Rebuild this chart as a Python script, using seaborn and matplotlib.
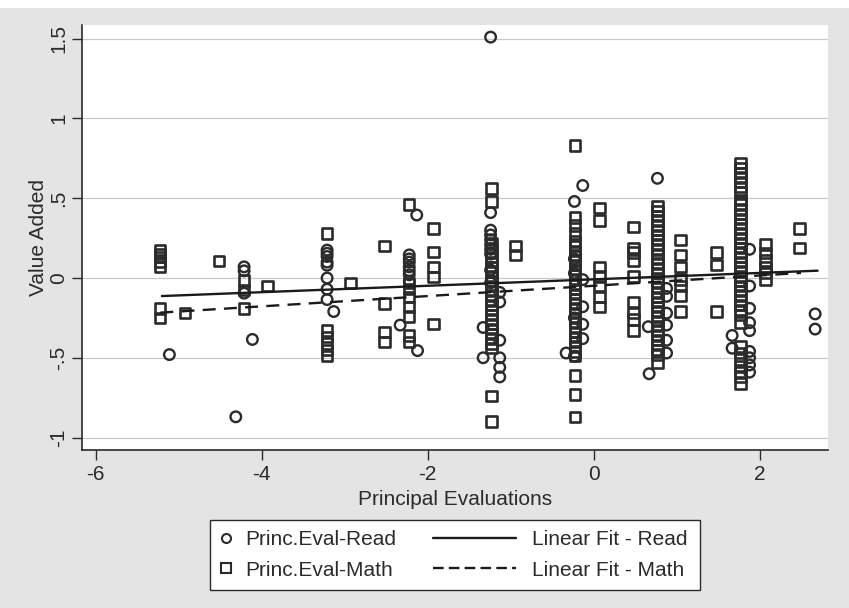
import matplotlib
matplotlib.use('Agg')
import numpy as np
import pandas as pd
import matplotlib.pyplot as plt
from matplotlib.lines import Line2D
from matplotlib.patches import Rectangle
import seaborn as sns

sns.set_style('ticks')
plt.rcParams['font.family'] = ['Liberation Sans', 'DejaVu Sans']

# --- data: one x per column, list of y values per column ---
read_col_x = [-5.11, -4.31, -4.21, -4.11, -3.21, -3.13, -2.22, -2.13, -2.33, -2.12,
              -1.24, -1.13, -1.33, -0.23, -0.13, -0.33, 0.77, 0.88, 0.66, 0.67,
              1.88, 1.67, 2.67]
read_col_y = [
    [-0.48],
    [-0.87],
    [0.07, 0.045, -0.095],
    [-0.385],
    [0.175, 0.155, 0.135, 0.10, 0.08, 0.0, -0.07, -0.135],
    [-0.21],
    [0.145, 0.12, 0.10, 0.07, 0.045, 0.02, -0.02],
    [0.395],
    [-0.295],
    [-0.455],
    [1.51, 0.41, 0.30, 0.27, 0.24, 0.21, 0.18, 0.15, 0.05, -0.03],
    [-0.09, -0.15, -0.39, -0.50, -0.56, -0.62],
    [-0.31, -0.50],
    [0.48, 0.12, 0.03, -0.25, -0.49],
    [0.58, -0.01, -0.18, -0.29, -0.38],
    [-0.47],
    [0.625],
    [-0.065, -0.115, -0.22, -0.295, -0.39, -0.47],
    [-0.305],
    [-0.60],
    [0.18, -0.05, -0.19, -0.28, -0.33, -0.46, -0.50, -0.545, -0.59],
    [-0.36, -0.44],
    [-0.225, -0.32],
]

math_col_x = [-5.22, -4.92, -4.51, -4.21, -3.93, -3.21, -2.93, -2.52, -2.22, -1.93,
              -1.23, -0.94, -0.22, 0.07, 0.48, 0.77, 1.05, 1.48, 1.77, 2.07, 2.48]
math_col_y = [
    [0.175, 0.15, 0.13, 0.10, 0.07, -0.19, -0.25],
    [-0.22],
    [0.105],
    [-0.015, -0.075, -0.19],
    [-0.05],
    [0.28, -0.33, -0.37, -0.41, -0.45, -0.49],
    [-0.03],
    [0.20, -0.16, -0.34, -0.40],
    [0.46, -0.03, -0.07, -0.12, -0.18, -0.24, -0.36, -0.40],
    [0.31, 0.165, 0.07, 0.005, -0.29],
    [0.56, 0.48, 0.22, 0.19, 0.16, 0.13, 0.10, 0.07, 0.04, 0.01, -0.02, -0.05,
     -0.08, -0.11, -0.14, -0.17, -0.20, -0.23, -0.26, -0.29, -0.32, -0.35,
     -0.38, -0.41, -0.44, -0.74, -0.90],
    [0.20, 0.145],
    [0.83, 0.38, 0.33, 0.28, 0.23, 0.20, 0.17, 0.14, 0.11, 0.08, 0.05, 0.02,
     -0.01, -0.04, -0.07, -0.10, -0.13, -0.16, -0.19, -0.22, -0.25, -0.28,
     -0.31, -0.34, -0.37, -0.40, -0.43, -0.46, -0.49, -0.61, -0.73, -0.87],
    [0.44, 0.36, 0.07, 0.01, -0.05, -0.12, -0.18],
    [0.32, 0.19, 0.16, 0.11, 0.01, -0.15, -0.22, -0.26, -0.33],
    [0.45, 0.42, 0.39, 0.36, 0.33, 0.30, 0.27, 0.24, 0.21, 0.18, 0.15, 0.12,
     0.09, 0.06, 0.03, 0.0, -0.03, -0.06, -0.09, -0.12, -0.15, -0.18, -0.21,
     -0.24, -0.27, -0.30, -0.33, -0.36, -0.39, -0.42, -0.45, -0.48, -0.53],
    [0.24, 0.145, 0.07, -0.01, -0.05, -0.11, -0.21],
    [0.16, 0.08, -0.21],
    [0.72, 0.69, 0.66, 0.63, 0.60, 0.57, 0.54, 0.49, 0.46, 0.43, 0.40, 0.37,
     0.34, 0.31, 0.28, 0.25, 0.22, 0.19, 0.16, 0.13, 0.10, 0.07, 0.04, 0.01,
     -0.02, -0.05, -0.08, -0.11, -0.14, -0.17, -0.20, -0.23, -0.28, -0.43,
     -0.47, -0.51, -0.55, -0.59, -0.62, -0.66],
    [0.21, 0.155, 0.11, 0.07, 0.03, -0.01],
    [0.31, 0.19],
]

# fitted lines (end points)
fit_read_x = [-5.2, 2.7]
fit_read_y = [-0.113, 0.046]
fit_math_x = [-5.22, 2.5]
fit_math_y = [-0.217, 0.032]

x_ticks = [-6, -4, -2, 0, 2]
y_ticks = [-1, -0.5, 0, 0.5, 1, 1.5]
y_tick_labels = ['-1', '-.5', '0', '.5', '1', '1.5']


def flatten(xs, ys):
    px, py = [], []
    for x, col in zip(xs, ys):
        px += [x] * len(col)
        py += col
    return pd.DataFrame({'x': px, 'y': py})


read_df = flatten(read_col_x, read_col_y)
math_df = flatten(math_col_x, math_col_y)

ink = '#2b2b2b'
fig = plt.figure(figsize=(8.49, 6.08), dpi=100, facecolor='#e4e4e4')
fig.patches.append(Rectangle((0, 1 - 8 / 608), 1, 8 / 608, transform=fig.transFigure,
                             facecolor='white', edgecolor='none', zorder=-1))
ax = fig.add_axes([82 / 849, 158 / 608, 746 / 849, 425 / 608])
ax.set_facecolor('white')

for yv in y_ticks:
    ax.axhline(yv, color='#c9c9c9', lw=0.9, zorder=0)

sns.scatterplot(data=math_df, x='x', y='y', marker='s', s=56, facecolor='none',
                edgecolor=ink, linewidth=1.9, ax=ax, zorder=3)
sns.scatterplot(data=read_df, x='x', y='y', marker='o', s=58, facecolor='none',
                edgecolor=ink, linewidth=1.7, ax=ax, zorder=3)
sns.lineplot(x=fit_read_x, y=fit_read_y, color='#1a1a1a', lw=1.7, ax=ax, zorder=4)
sns.lineplot(x=fit_math_x, y=fit_math_y, color='#1a1a1a', lw=1.7, ax=ax, zorder=4,
             dashes=False, linestyle=(0, (5.5, 3.5)))

ax.set_xlim(-6.163, 2.825)
ax.set_ylim(-1.078, 1.586)
ax.set_xticks(x_ticks)
ax.set_xticklabels([str(t) for t in x_ticks])
ax.set_yticks(y_ticks)
ax.set_yticklabels(y_tick_labels, rotation=90, va='center')
ax.tick_params(axis='both', labelsize=15, length=7, width=1, colors=ink, pad=4)
ax.tick_params(axis='y', pad=3)
ax.set_xlabel('Principal Evaluations', fontsize=15, color=ink, labelpad=4)
ax.set_ylabel('Value Added', fontsize=15, color=ink, labelpad=1)
sns.despine(ax=ax)
for side in ['left', 'bottom']:
    ax.spines[side].set_color(ink)
    ax.spines[side].set_linewidth(1.2)

# legend box in Stata style
fig.patches.append(Rectangle((210 / 849, 18 / 608), 490 / 849, 70 / 608,
                             transform=fig.transFigure, facecolor='white',
                             edgecolor=ink, lw=1.0))
mk = dict(color='none', markerfacecolor='none', markeredgecolor=ink, markeredgewidth=1.5,
          markersize=6.5)
h_marks = [Line2D([], [], marker='o', **mk), Line2D([], [], marker='s', **mk)]
h_lines = [Line2D([], [], color='#1a1a1a', lw=1.7),
           Line2D([], [], color='#1a1a1a', lw=1.7, linestyle=(0, (4.5, 2.2)))]
leg1 = fig.legend(h_marks, ['Princ.Eval-Read', 'Princ.Eval-Math'], loc='center left',
                  bbox_to_anchor=(218 / 849, 53 / 608), frameon=False, fontsize=15,
                  handlelength=0.8, handletextpad=0.5, labelspacing=0.55,
                  borderpad=0, borderaxespad=0)
leg2 = fig.legend(h_lines, ['Linear Fit - Read', 'Linear Fit - Math'], loc='center left',
                  bbox_to_anchor=(433 / 849, 53 / 608), frameon=False, fontsize=15,
                  handlelength=4.0, handletextpad=0.75, labelspacing=0.55,
                  borderpad=0, borderaxespad=0)
for leg in (leg1, leg2):
    for t in leg.get_texts():
        t.set_color(ink)

fig.savefig('out.png', dpi=100, facecolor=fig.get_facecolor())
